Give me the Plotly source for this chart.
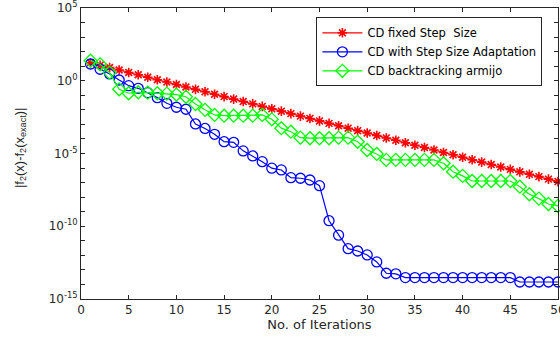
import plotly.graph_objects as go

iterations = list(range(1, 51))

# log10 of |f2(x) - f2(x_exact)|
log_err_fixed = [1.24, 1.07, 0.91, 0.74, 0.57, 0.41, 0.24, 0.07, -0.09, -0.26,
                 -0.43, -0.59, -0.76, -0.93, -1.09, -1.26, -1.43, -1.59, -1.76, -1.93,
                 -2.09, -2.26, -2.43, -2.59, -2.76, -2.93, -3.09, -3.26, -3.43, -3.59,
                 -3.76, -3.93, -4.09, -4.26, -4.43, -4.59, -4.76, -4.93, -5.09, -5.26,
                 -5.43, -5.59, -5.76, -5.93, -6.09, -6.26, -6.43, -6.59, -6.76, -6.93]

log_err_adapt = [1.15, 0.79, 0.47, 0.05, -0.34, -0.52, -0.82, -1.16, -1.55, -1.82,
                 -1.96, -2.97, -3.28, -3.68, -4.19, -4.23, -4.82, -5.17, -5.56, -6.01,
                 -6.13, -6.66, -6.70, -6.82, -7.21, -9.62, -10.61, -11.54, -11.70, -11.97,
                 -12.45, -13.23, -13.27, -13.53, -13.53, -13.53, -13.53, -13.53, -13.53, -13.53,
                 -13.53, -13.53, -13.53, -13.53, -13.53, -13.83, -13.83, -13.83, -13.83, -13.83]

log_err_armijo = [1.38, 1.13, 0.56, -0.59, -0.86, -0.79, -0.82, -0.86, -0.88, -0.95,
                  -1.10, -1.60, -2.00, -2.35, -2.40, -2.40, -2.40, -2.40, -2.35, -2.65,
                  -3.26, -3.50, -3.91, -3.95, -3.95, -3.95, -3.91, -3.91, -4.19, -4.76,
                  -5.03, -5.44, -5.44, -5.44, -5.44, -5.44, -5.44, -5.67, -6.25, -6.54,
                  -6.89, -6.89, -6.89, -6.89, -6.89, -7.28, -7.80, -8.10, -8.47, -8.60]

series_names = ["CD fixed Step  Size", "CD with Step Size Adaptation", "CD backtracking armijo"]
x_ticks = [0, 5, 10, 15, 20, 25, 30, 35, 40, 45, 50]
y_decades = list(range(-15, 6))

font_family = "DejaVu Sans, Arial, sans-serif"
ink = "#262626"

fig = go.Figure()
fig.add_trace(go.Scatter(
    x=iterations, y=[10 ** v for v in log_err_fixed], name=series_names[0],
    mode="lines+markers", cliponaxis=False,
    line=dict(color="#FF0000", width=1.2),
    marker=dict(symbol="asterisk-open", size=8, color="#FF0000",
                line=dict(color="#FF0000", width=1.6)),
))
fig.add_trace(go.Scatter(
    x=iterations, y=[10 ** v for v in log_err_adapt], name=series_names[1],
    mode="lines+markers", cliponaxis=False,
    line=dict(color="#0000FF", width=1.2),
    marker=dict(symbol="circle-open", size=10, color="#0000FF",
                line=dict(color="#0000FF", width=1.3)),
))
fig.add_trace(go.Scatter(
    x=iterations, y=[10 ** v for v in log_err_armijo], name=series_names[2],
    mode="lines+markers", cliponaxis=False,
    line=dict(color="#00FF00", width=1.2),
    marker=dict(symbol="diamond-open", size=10, color="#00FF00",
                line=dict(color="#00FF00", width=1.3)),
))

y_text = []
for d in y_decades:
    y_text.append(f"10<sup>{d}</sup>" if d % 5 == 0 else "")

fig.update_layout(
    width=560, height=337,
    margin=dict(l=80.6, r=2.4, t=8, b=38, autoexpand=False),
    paper_bgcolor="white", plot_bgcolor="white",
    font=dict(family=font_family, size=12, color=ink),
    showlegend=True,
    legend=dict(
        x=(316 - 80.6) / 477, xanchor="left", y=0.968, yanchor="top",
        bgcolor="white", bordercolor=ink, borderwidth=1,
        font=dict(size=11.5, color="black"),
        tracegroupgap=0, itemwidth=40,
    ),
    xaxis=dict(
        range=[0, 50], tickvals=x_ticks, ticktext=[str(v) for v in x_ticks],
        ticks="inside", ticklen=4, tickcolor=ink, automargin=False,
        showline=True, linecolor=ink, linewidth=1, mirror="ticks",
        showgrid=False, zeroline=False, ticklabeloverflow="allow",
        title=dict(text="No. of Iterations", font=dict(size=13), standoff=3),
        tickfont=dict(size=12),
    ),
    yaxis=dict(
        type="log", range=[-15, 5], automargin=False,
        tickvals=[10 ** d for d in y_decades], ticktext=y_text,
        ticks="inside", ticklen=4, tickcolor=ink,
        showline=True, linecolor=ink, linewidth=1, mirror="ticks",
        showgrid=False, zeroline=False, ticklabeloverflow="allow",
        tickfont=dict(size=12),
    ),
    annotations=[dict(
        text="|f<sub>2</sub>(x)-f<sub>2</sub>(x<sub>exact</sub>)|",
        xref="paper", yref="paper", x=(20 - 80.6) / 477, y=0.52,
        xanchor="center", yanchor="middle", textangle=-90, showarrow=False,
        font=dict(family="Liberation Sans, Arial, sans-serif", size=13, color=ink),
    )],
)

fig.write_html("out.html")
